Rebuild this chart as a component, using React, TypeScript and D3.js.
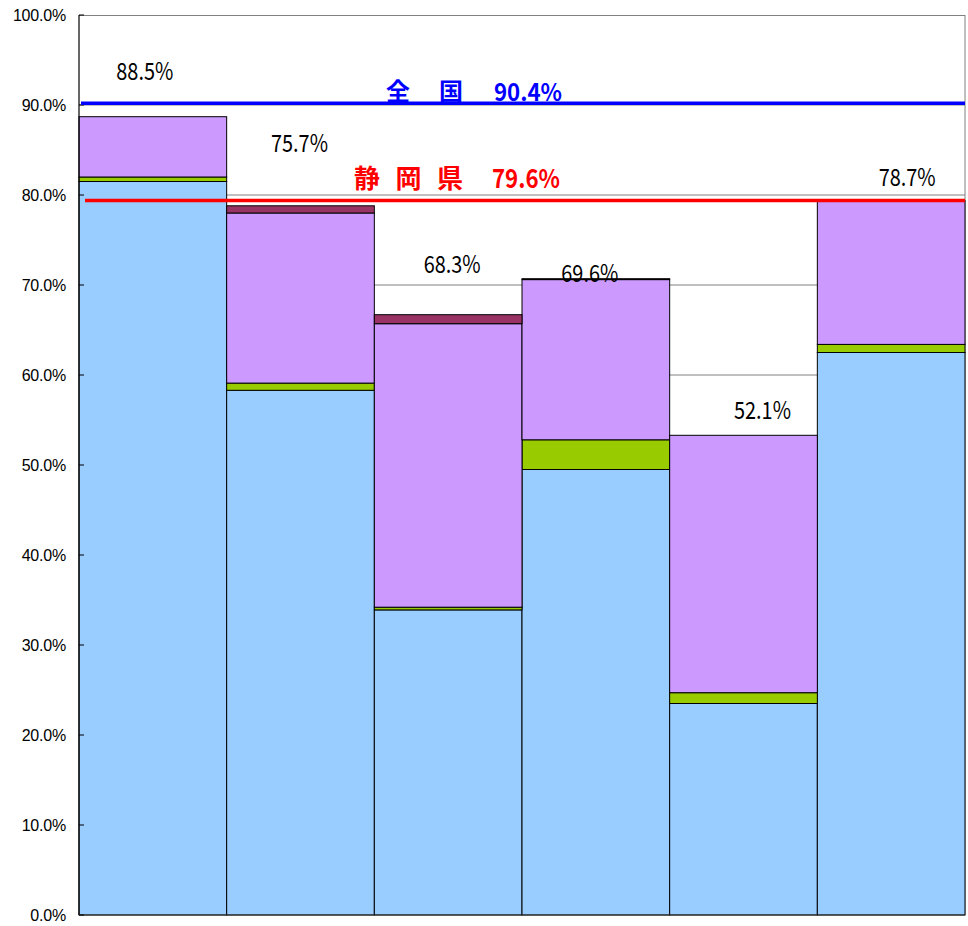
import React from 'react';
import * as d3 from 'd3';

// chart values (percent)
const categories = ['1', '2', '3', '4', '5', '6'];
const seriesKeys = ['blue', 'green', 'purple', 'maroon'];
const blueValues = [81.5, 58.3, 33.9, 49.5, 23.5, 62.5];
const greenValues = [0.5, 0.8, 0.3, 3.3, 1.2, 0.9];
const purpleValues = [6.7, 18.9, 31.5, 17.8, 28.6, 16.0];
const maroonValues = [0, 0.8, 1.0, 0.1, 0, 0];
const barLabels = ['88.5%', '75.7%', '68.3%', '69.6%', '52.1%', '78.7%'];
const yTicks = [0, 10, 20, 30, 40, 50, 60, 70, 80, 90, 100];
const nationalValue = 90.2;
const nationalLabel = ['全', '国'];
const nationalText = '90.4%';
const prefValue = 79.4;
const prefLabel = ['静', '岡', '県'];
const prefText = '79.6%';

// label placement (px offsets from band centre / baseline in value units)
const labelDx = [-8, -1, 4, -6, 19, 16];
const labelBaseline = [92.8, 84.8, 71.3, 70.3, 55.1, 81.0];

const colors: Record<string, string> = {
  blue: '#99CCFF',
  green: '#99CC00',
  purple: '#CC99FF',
  maroon: '#993366',
};

const W = 968;
const H = 926;
const left = 79;
const right = 965;
const top = 15;
const bottom = 915;

export default function App() {
  const rows = categories.map((c, i) => ({
    cat: c,
    blue: blueValues[i],
    green: greenValues[i],
    purple: purpleValues[i],
    maroon: maroonValues[i],
  }));
  const stacked = d3.stack<any>().keys(seriesKeys)(rows);

  const x = d3.scaleBand().domain(categories).range([left, right]).padding(0);
  const y = d3.scaleLinear().domain([0, 100]).range([bottom, top]);

  const jp = '"Noto Sans CJK JP", "Noto Sans", sans-serif';

  return (
    <svg
      width={W}
      height={H}
      style={{ position: 'absolute', left: 0, top: 0, background: '#fff' }}
    >
      {/* grid */}
      {yTicks
        .filter(t => t > 0 && t < 100)
        .map(t => (
          <line key={t} x1={left} x2={right} y1={y(t)} y2={y(t)} stroke="#808080" strokeWidth={1} />
        ))}
      {/* frame */}
      <line x1={left} x2={right} y1={top + 0.5} y2={top + 0.5} stroke="#808080" />
      <line x1={right} x2={right} y1={top} y2={bottom} stroke="#808080" />

      {/* bars */}
      {stacked.map(layer => (
        <g key={layer.key}>
          {layer.map((d, i) => {
            const h = y(d[0]) - y(d[1]);
            if (h <= 0) return null;
            return (
              <rect
                key={i}
                x={x(categories[i])!}
                y={y(d[1])}
                width={x.bandwidth()}
                height={h}
                fill={colors[layer.key]}
                stroke="#000"
                strokeWidth={1}
              />
            );
          })}
        </g>
      ))}

      {/* axes */}
      <line x1={left} x2={left} y1={top} y2={bottom} stroke="#000" strokeWidth={1.2} />
      <line x1={left} x2={right} y1={bottom} y2={bottom} stroke="#333" strokeWidth={1.2} />
      {yTicks.map(t => (
        <g key={t}>
          <line x1={left} x2={left + 5} y1={y(t)} y2={y(t)} stroke="#000" />
          <text
            x={66}
            y={y(t)}
            dy="0.35em"
            textAnchor="end"
            fontFamily='"Liberation Sans", Arial, sans-serif'
            fontSize={16}
            letterSpacing={-0.2}
            fill="#000"
          >
            {t.toFixed(1)}%
          </text>
        </g>
      ))}

      {/* reference lines */}
      <line x1={left + 2} x2={right} y1={y(nationalValue)} y2={y(nationalValue)} stroke="#0000FF" strokeWidth={3.5} />
      <line x1={left + 6} x2={right} y1={y(prefValue)} y2={y(prefValue)} stroke="#FF0000" strokeWidth={3.5} />

      <g fontFamily={jp} fontWeight="bold" fill="#0000FF" fontSize={24}>
        {nationalLabel.map((ch, i) => (
          <text key={ch} x={386 + i * 53} y={100}>
            {ch}
          </text>
        ))}
        <text x={494} y={101} textLength={68} lengthAdjust="spacingAndGlyphs">
          {nationalText}
        </text>
      </g>
      <g fontFamily={jp} fontWeight="bold" fill="#FF0000" fontSize={26}>
        {prefLabel.map((ch, i) => (
          <text key={ch} x={354 + i * 41.5} y={188}>
            {ch}
          </text>
        ))}
        <text x={492} y={188} textLength={68} lengthAdjust="spacingAndGlyphs">
          {prefText}
        </text>
      </g>

      {/* value labels */}
      {barLabels.map((lab, i) => (
        <text
          key={i}
          x={x(categories[i])! + x.bandwidth() / 2 + labelDx[i]}
          y={y(labelBaseline[i])}
          textAnchor="middle"
          fontFamily={jp}
          fontSize={24}
          textLength={57}
          lengthAdjust="spacingAndGlyphs"
          fill="#000"
        >
          {lab}
        </text>
      ))}
    </svg>
  );
}
